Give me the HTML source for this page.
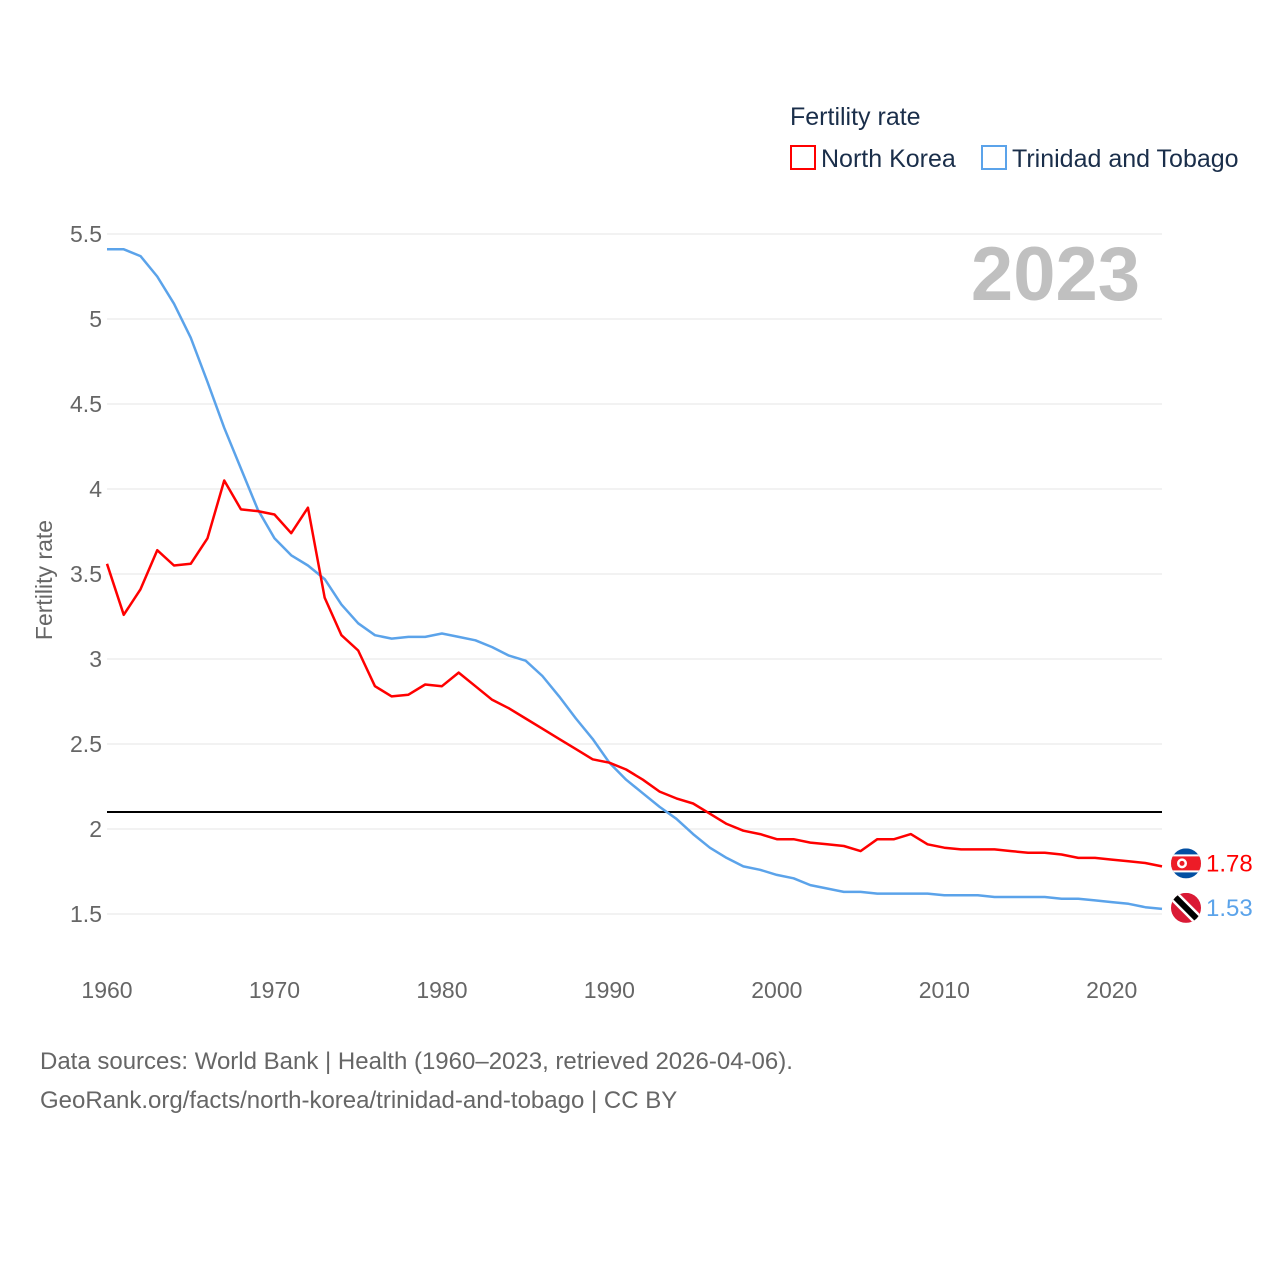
<!DOCTYPE html>
<html><head><meta charset="utf-8"><style>
body{margin:0;background:#fff;font-family:"Liberation Sans",sans-serif}
svg text{font-family:"Liberation Sans",sans-serif}
</style></head><body>
<svg id="c" width="1280" height="1280" viewBox="0 0 1280 1280">
<rect width="1280" height="1280" fill="#fff"/>
<g id="grid"></g>
<g id="yticks"></g>
<g id="xticks"></g>
<text x="52" y="580" transform="rotate(-90 52 580)" text-anchor="middle" font-size="23" fill="#666">Fertility rate</text>
<text x="1140" y="300" text-anchor="end" font-size="76" font-weight="bold" fill="#c0c0c0">2023</text>
<g id="series"></g>
<g>
<text x="790" y="125" font-size="25" fill="#1a2e4a">Fertility rate</text>
<rect x="791" y="146" width="24" height="23" fill="none" stroke="#f00" stroke-width="2"/>
<text x="821" y="167" font-size="25" fill="#1a2e4a">North Korea</text>
<rect x="982" y="146" width="24" height="23" fill="none" stroke="#5ba3ea" stroke-width="2"/>
<text x="1012" y="167" font-size="25" fill="#1a2e4a">Trinidad and Tobago</text>
</g>
<text x="40" y="1069" font-size="24" fill="#666">Data sources: World Bank | Health (1960–2023, retrieved 2026-04-06).</text>
<text x="40" y="1108" font-size="24" fill="#666">GeoRank.org/facts/north-korea/trinidad-and-tobago | CC BY</text>
</svg>
<script>
const years=[];for(let y=1960;y<=2023;y++)years.push(y);
const northKorea=[3.56,3.26,3.41,3.64,3.55,3.56,3.71,4.05,3.88,3.87,3.85,3.74,3.89,3.36,3.14,3.05,2.84,2.78,2.79,2.85,2.84,2.92,2.84,2.76,2.71,2.65,2.59,2.53,2.47,2.41,2.39,2.35,2.29,2.22,2.18,2.15,2.09,2.03,1.99,1.97,1.94,1.94,1.92,1.91,1.90,1.87,1.94,1.94,1.97,1.91,1.89,1.88,1.88,1.88,1.87,1.86,1.86,1.85,1.83,1.83,1.82,1.81,1.80,1.78];
const trinidad=[5.41,5.41,5.37,5.25,5.09,4.89,4.63,4.36,4.12,3.88,3.71,3.61,3.55,3.47,3.32,3.21,3.14,3.12,3.13,3.13,3.15,3.13,3.11,3.07,3.02,2.99,2.90,2.78,2.65,2.53,2.39,2.29,2.21,2.13,2.06,1.97,1.89,1.83,1.78,1.76,1.73,1.71,1.67,1.65,1.63,1.63,1.62,1.62,1.62,1.62,1.61,1.61,1.61,1.60,1.60,1.60,1.60,1.59,1.59,1.58,1.57,1.56,1.54,1.53];
const yTicks=[1.5,2,2.5,3,3.5,4,4.5,5,5.5];
const xTicks=[1960,1970,1980,1990,2000,2010,2020];
const refLine=2.1;
const NS='http://www.w3.org/2000/svg';
const X=y=>107+(y-1960)*(1162-107)/63;
const Y=v=>914-(v-1.5)*170;
function mk(t,a,p){const e=document.createElementNS(NS,t);for(const k in a)e.setAttribute(k,a[k]);p.appendChild(e);return e;}
const grid=document.getElementById('grid'),yt=document.getElementById('yticks'),xt=document.getElementById('xticks'),sr=document.getElementById('series');
yTicks.forEach(v=>{
 const l=mk('line',{x1:107,x2:1162,y1:Y(v),y2:Y(v),stroke:'#e6e6e6','stroke-width':1},grid);
 
 
 const t=mk('text',{x:102,y:Y(v)+8,'text-anchor':'end','font-size':23,fill:'#666'},yt);t.textContent=v;
 
 
});
xTicks.forEach(v=>{
 const t=mk('text',{x:X(v),y:998,'text-anchor':'middle','font-size':23,fill:'#666'},xt);t.textContent=v;
 
 
});
const rl=mk('line',{x1:107,x2:1162,y1:Y(refLine),y2:Y(refLine),stroke:'#000','stroke-width':2},sr);


function line(data,color,name){
 const p=mk('polyline',{points:data.map((v,i)=>X(years[i])+','+Y(v)).join(' '),fill:'none',stroke:color,'stroke-width':2.5,'stroke-linejoin':'round'},sr);
 
 
}
line(trinidad,'#5ba3ea','trinidad-line');
line(northKorea,'#f00','north-korea-line');
const nkV=northKorea[northKorea.length-1],ttV=trinidad[trinidad.length-1];
const nkY=Y(nkV)-3,ttC=Y(ttV)-1;
const cx=1186;
const g1=mk('g',{},sr);


const cp1=mk('clipPath',{id:'c1'},g1);mk('circle',{cx:cx,cy:nkY,r:15},cp1);
mk('rect',{x:cx-15,y:nkY-15,width:30,height:30,fill:'#024fa2','clip-path':'url(#c1)'},g1);
mk('rect',{x:cx-15,y:nkY-9,width:30,height:18,fill:'#fff','clip-path':'url(#c1)'},g1);
mk('rect',{x:cx-15,y:nkY-7,width:30,height:14,fill:'#ed1c27','clip-path':'url(#c1)'},g1);
mk('circle',{cx:cx-4,cy:nkY,r:5,fill:'#fff'},g1);
mk('circle',{cx:cx-4,cy:nkY,r:2.5,fill:'#ed1c27'},g1);
const g2=mk('g',{},sr);


const cp=mk('clipPath',{id:'c2'},g2);mk('circle',{cx:cx,cy:ttC,r:15},cp);
mk('rect',{x:cx-15,y:ttC-15,width:30,height:30,fill:'#da1a35','clip-path':'url(#c2)'},g2);
mk('line',{x1:cx-15,y1:ttC-15,x2:cx+15,y2:ttC+15,stroke:'#fff','stroke-width':11,'clip-path':'url(#c2)'},g2);
mk('line',{x1:cx-15,y1:ttC-15,x2:cx+15,y2:ttC+15,stroke:'#000','stroke-width':6,'clip-path':'url(#c2)'},g2);
const l1=mk('text',{x:1206,y:nkY+8,'font-size':24,fill:'#f00'},sr);l1.textContent=nkV.toFixed(2);


const l2=mk('text',{x:1206,y:ttC+8,'font-size':24,fill:'#5ba3ea'},sr);l2.textContent=ttV.toFixed(2);


</script>
</body></html>
